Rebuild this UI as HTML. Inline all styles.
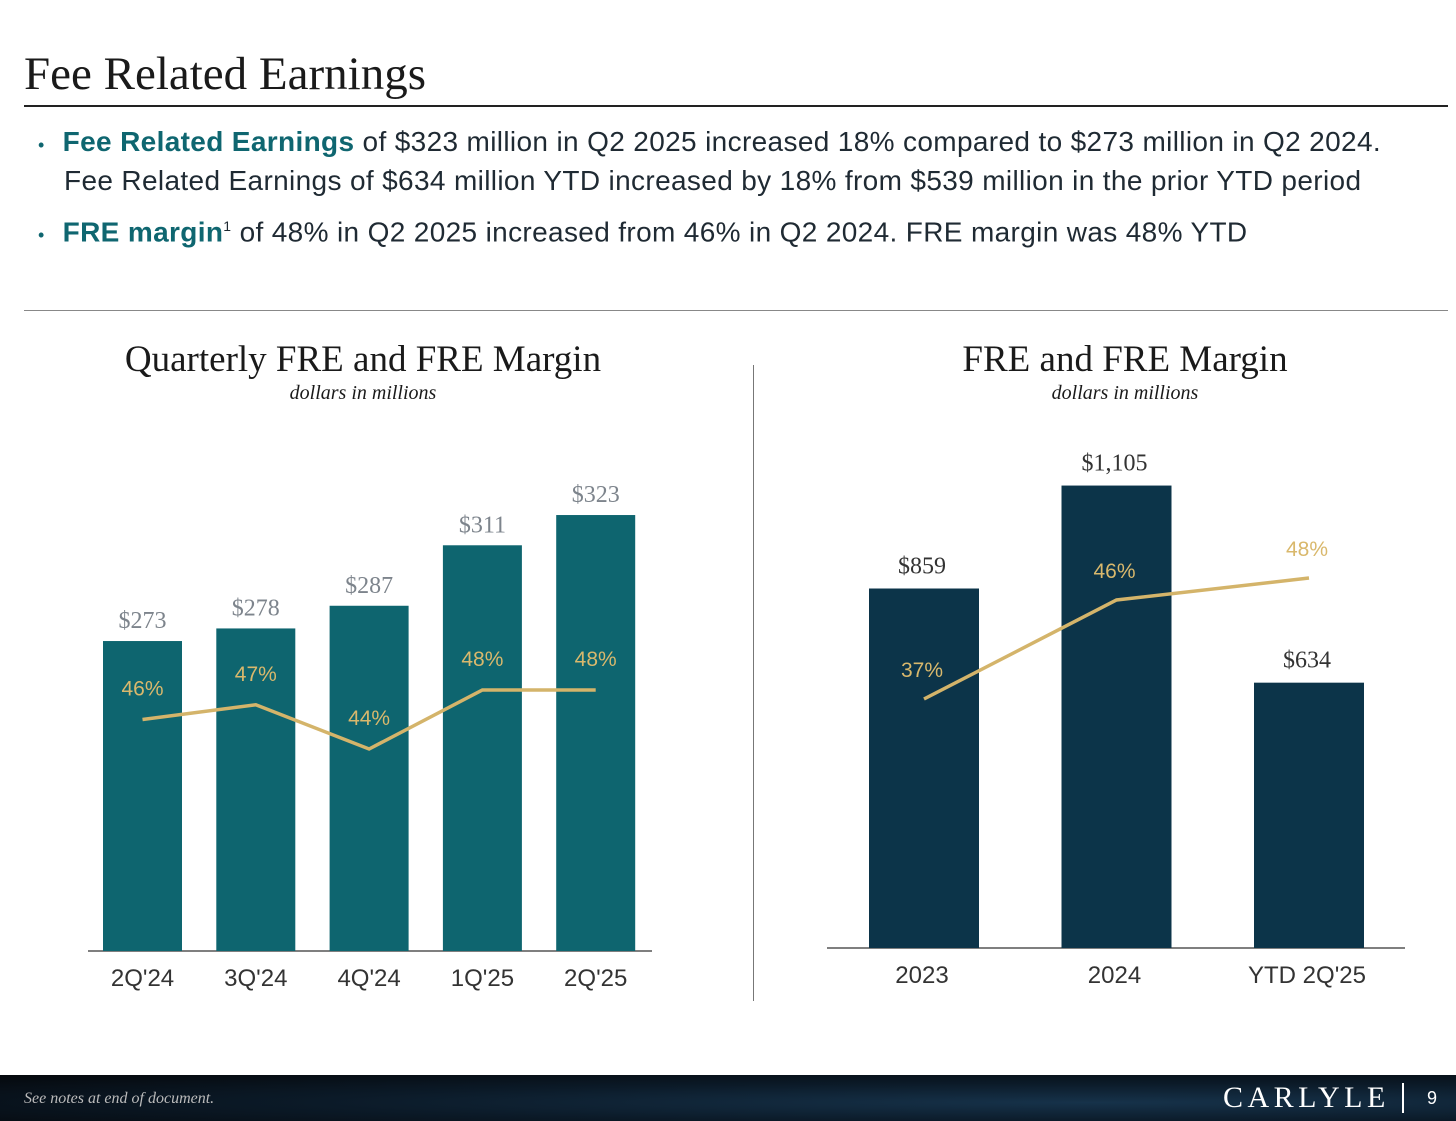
<!DOCTYPE html>
<html><head><meta charset="utf-8">
<style>
body{margin:0;width:1456px;height:1121px;background:#fff;position:relative;overflow:hidden;font-family:"Liberation Sans",sans-serif}
.abs{position:absolute}
.title{left:24px;top:47px;font-family:"Liberation Serif",serif;font-size:47px;color:#1a1a1a}
.bul{left:38px;font-size:28px;letter-spacing:0.35px;color:#1f2a33;line-height:36px}
.bul b{color:#0f6670}
.ct{font-family:"Liberation Serif",serif;font-size:37px;color:#1a1a1a;text-align:center;width:600px}
.cs{font-family:"Liberation Serif",serif;font-style:italic;font-size:20px;color:#1a1a1a;text-align:center;width:600px}
</style></head><body>
<div class="abs title">Fee Related Earnings</div>
<div class="abs" style="left:24px;top:105px;width:1424px;height:2px;background:#222"></div>
<div class="abs bul" style="top:124px"><span style="font-size:18px;color:#0f6670;margin-right:18px">•</span><b>Fee Related Earnings</b> of $323 million in Q2 2025 increased 18% compared to $273 million in Q2 2024.<br><span style="margin-left:26px">Fee Related Earnings of $634 million YTD increased by 18% from $539 million in the prior YTD period</span></div>
<div class="abs bul" style="top:208px"><span style="font-size:18px;color:#0f6670;margin-right:18px">•</span><b>FRE margin</b><sup style="font-size:14px">1</sup> of 48% in Q2 2025 increased from 46% in Q2 2024. FRE margin was 48% YTD</div>
<div class="abs" style="left:24px;top:310px;width:1424px;height:1px;background:#888"></div>
<div class="abs" style="left:753px;top:365px;width:1px;height:636px;background:#777"></div>
<div class="abs ct" style="left:63px;top:338px">Quarterly FRE and FRE Margin</div>
<div class="abs cs" style="left:63px;top:382px">dollars in millions</div>
<div class="abs ct" style="left:825px;top:338px">FRE and FRE Margin</div>
<div class="abs cs" style="left:825px;top:382px">dollars in millions</div>
<svg class="abs" style="left:0;top:0" width="1456" height="1121" id="chart"></svg>
<div class="abs" style="left:0;top:1075px;width:1456px;height:46px;background:radial-gradient(ellipse at 75% 60%,#16324a 0%,#0b1a28 50%,#05080c 100%)">
<div class="abs" style="left:24px;top:15px;font-family:'Liberation Serif',serif;font-style:italic;font-size:16px;color:#bbb">See notes at end of document.</div>
<div class="abs" style="left:1223px;top:6px;font-family:'Liberation Serif',serif;font-size:30px;letter-spacing:4.5px;color:#fff">CARLYLE</div>
<div class="abs" style="left:1402px;top:8px;width:2px;height:30px;background:#fff"></div>
<div class="abs" style="left:1427px;top:13px;font-size:18px;color:#fff">9</div>
</div>
<script>
const qCats=["2Q'24","3Q'24","4Q'24","1Q'25","2Q'25"];
const qFre=[273,278,287,311,323];
const qMargin=[46,47,44,48,48];
const aCats=["2023","2024","YTD 2Q'25"];
const aFre=[859,1105,634];
const aMargin=[37,46,48];
const NS="http://www.w3.org/2000/svg";
const svg=document.getElementById('chart');
function mk(t,a,txt){const e=document.createElementNS(NS,t);for(const k in a)e.setAttribute(k,a[k]);if(txt!=null)e.textContent=txt;svg.appendChild(e);return e;}
const lBase=951,lX=i=>142.5+i*113.3,lY=v=>lBase-(v-150)*2.52,lM=v=>690+(48-v)*14.75;
const rBase=948,rX=i=>924+i*192.5,rY=v=>rBase-v*0.4185,rM=v=>578+(48-v)*11;
let e;
e=mk('line',{x1:88,x2:652,y1:lBase,y2:lBase,stroke:'#555','stroke-width':1.5});

qCats.forEach((c,i)=>{
 e=mk('rect',{x:lX(i)-39.5,y:lY(qFre[i]),width:79,height:lBase-lY(qFre[i]),fill:'#0e656f'});
 
 e=mk('text',{x:lX(i),y:lY(qFre[i])-13,'text-anchor':'middle','font-family':'Liberation Serif,serif','font-size':24,fill:'#7d848c'},'$'+qFre[i]);
 
 e=mk('text',{x:lX(i),y:lM(qMargin[i])-24,'text-anchor':'middle','font-size':21,fill:'#d9b86c'},qMargin[i]+'%');
 
 e=mk('text',{x:lX(i),y:986,'text-anchor':'middle','font-size':24,fill:'#333'},c);
 
});
e=mk('polyline',{points:qMargin.map((v,i)=>lX(i)+','+lM(v)).join(' '),fill:'none',stroke:'#d4b46a','stroke-width':3.5});

e=mk('line',{x1:827,x2:1405,y1:rBase,y2:rBase,stroke:'#555','stroke-width':1.5});

aCats.forEach((c,i)=>{
 e=mk('rect',{x:rX(i)-55,y:rY(aFre[i]),width:110,height:rBase-rY(aFre[i]),fill:'#0c3449'});
 
 e=mk('text',{x:rX(i)-2,y:rY(aFre[i])-15,'text-anchor':'middle','font-family':'Liberation Serif,serif','font-size':24,fill:'#333'},'$'+aFre[i].toLocaleString('en-US'));
 
 e=mk('text',{x:rX(i)-2,y:rM(aMargin[i])-22,'text-anchor':'middle','font-size':21,fill:'#d9b86c'},aMargin[i]+'%');
 
 e=mk('text',{x:rX(i)-2,y:983,'text-anchor':'middle','font-size':24,fill:'#333'},c);
 
});
e=mk('polyline',{points:aMargin.map((v,i)=>rX(i)+','+rM(v)).join(' '),fill:'none',stroke:'#d4b46a','stroke-width':3.5});

</script>
</body></html>
